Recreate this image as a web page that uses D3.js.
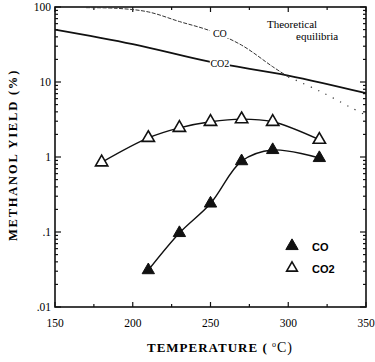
<!DOCTYPE html>
<html>
<head>
<meta charset="utf-8">
<script src="https://cdn.jsdelivr.net/npm/d3@7"></script>
<style>
  body { margin: 0; background: #fff; }
  svg { display: block; }
  .serif { font-family: "Liberation Serif", "DejaVu Serif", "Times New Roman", serif; }
  .sans { font-family: "Liberation Sans", "DejaVu Sans", Arial, sans-serif; }
</style>
</head>
<body>
<div id="chart"></div>
<script>
// experimental points
const coTemps = [210, 230, 250, 270, 290, 320];
const coYield = [0.031, 0.097, 0.24, 0.88, 1.24, 0.97];
const co2Temps = [180, 210, 230, 250, 270, 290, 320];
const co2Yield = [0.85, 1.8, 2.45, 2.95, 3.2, 2.95, 1.7];

// theoretical equilibria
const eqCoTemps = [170, 190, 210, 230, 250, 270, 290, 300, 320, 340, 350];
const eqCoYield = [98, 96, 86, 64, 48, 31, 16, 11.7, 7.6, 4.6, 3.6];
const eqCo2Temps = [150, 200, 250, 300, 350];
const eqCo2Yield = [50, 32, 18.5, 12.2, 7.1];

const xTicks = [150, 200, 250, 300, 350];
const yTicks = [0.01, 0.1, 1, 10, 100];
const yTickLabels = [".01", ".1", "1", "10", "100"];

const W = 375, H = 362;
const svg = d3.select("#chart").append("svg").attr("width", W).attr("height", H);

const x = d3.scaleLinear().domain([150, 350]).range([55, 366]);
const y = d3.scaleLog().domain([0.01, 100]).range([307, 7]);

// frame
svg.append("rect")
    .attr("x", x(150)).attr("y", y(100))
    .attr("width", x(350) - x(150)).attr("height", y(0.01) - y(100))
    .attr("fill", "none").attr("stroke", "#111").attr("stroke-width", 1.6);

// log minor ticks
const minorY = [];
[0.01, 0.1, 1, 10].forEach(d => { for (let k = 2; k <= 9; k++) minorY.push(d * k); });

const tickG = svg.append("g").attr("stroke", "#111").attr("stroke-width", 1.2);
yTicks.forEach(v => {
    tickG.append("line").attr("x1", x(150)).attr("x2", x(150) + 6).attr("y1", y(v)).attr("y2", y(v));
    tickG.append("line").attr("x1", x(350)).attr("x2", x(350) - 6).attr("y1", y(v)).attr("y2", y(v));
});
minorY.forEach(v => {
    tickG.append("line").attr("x1", x(150)).attr("x2", x(150) + 3).attr("y1", y(v)).attr("y2", y(v));
    tickG.append("line").attr("x1", x(350)).attr("x2", x(350) - 3).attr("y1", y(v)).attr("y2", y(v));
});
d3.range(150, 351, 25).forEach(t => {
    const len = t % 50 === 0 ? 5 : 3;
    tickG.append("line").attr("x1", x(t)).attr("x2", x(t)).attr("y1", y(0.01)).attr("y2", y(0.01) - len);
    tickG.append("line").attr("x1", x(t)).attr("x2", x(t)).attr("y1", y(100)).attr("y2", y(100) + len);
});

// tick labels
svg.append("g").attr("class", "serif").selectAll("text").data(xTicks).join("text")
    .attr("x", d => x(d)).attr("y", 327)
    .attr("text-anchor", "middle")
    .attr("font-size", 11.5)
    .text(d => d);

svg.append("g").attr("class", "serif").selectAll("text").data(yTicks).join("text")
    .attr("x", x(150) - 4).attr("y", d => y(d) + 4)
    .attr("text-anchor", "end")
    .attr("font-size", 11.5)
    .text((d, i) => yTickLabels[i]);

// axis titles
svg.append("text").attr("class", "serif")
    .attr("transform", "translate(17,155) rotate(-90)")
    .attr("text-anchor", "middle")
    .attr("font-size", 12.5).attr("font-weight", "bold")
    .attr("letter-spacing", 1.8)
    .text("METHANOL  YIELD  (%)");

const xt = svg.append("text").attr("class", "serif")
    .attr("x", 147).attr("y", 352)
    .attr("font-size", 13).attr("font-weight", "bold")
    .attr("letter-spacing", 1);
xt.append("tspan").text("TEMPERATURE (  ");
xt.append("tspan").attr("font-size", 8).attr("dy", -5).attr("font-weight", "normal").text("o");
xt.append("tspan").attr("dy", 5).attr("font-weight", "normal").attr("font-size", 14).text("C)");

// theoretical lines
const eqLine = d3.line().x(d => x(d[0])).y(d => y(d[1])).curve(d3.curveCatmullRom);
const eqCo = eqCoTemps.map((t, i) => [t, eqCoYield[i]]);
const eqCo2 = eqCo2Temps.map((t, i) => [t, eqCo2Yield[i]]);

svg.append("path").datum(eqCo2).attr("d", eqLine)
    .attr("fill", "none").attr("stroke", "#111").attr("stroke-width", 1.8);
svg.append("path").datum(eqCo.filter(d => d[0] <= 300)).attr("d", eqLine)
    .attr("fill", "none").attr("stroke", "#333").attr("stroke-width", 1)
    .attr("stroke-dasharray", "4,1.5");
svg.append("path").datum(eqCo.filter(d => d[0] >= 300)).attr("d", eqLine)
    .attr("fill", "none").attr("stroke", "#333").attr("stroke-width", 1.2)
    .attr("stroke-dasharray", "1.2,7");

// labels on theoretical lines
const curveLabel = (t, v, txt) => {
    const g = svg.append("g");
    g.append("rect").attr("x", x(t) - 10).attr("y", y(v) - 5).attr("width", 20).attr("height", 10).attr("fill", "#fff");
    g.append("text").attr("class", "serif").attr("x", x(t)).attr("y", y(v) + 3.5)
        .attr("text-anchor", "middle")
        .attr("font-size", 10)
        .text(txt);
};
curveLabel(256, 45, "CO");
curveLabel(256, 17.5, "CO2");

svg.append("text").attr("class", "serif").attr("x", 267).attr("y", 28)
    .attr("font-size", 11).text("Theoretical");
svg.append("text").attr("class", "serif").attr("x", 296).attr("y", 40)
    .attr("font-size", 11).text("equilibria");

// experimental curves
const fitLine = d3.line().x(d => x(d[0])).y(d => y(d[1])).curve(d3.curveCatmullRom);
const coPts = coTemps.map((t, i) => [t, coYield[i]]);
const co2Pts = co2Temps.map((t, i) => [t, co2Yield[i]]);

svg.append("path").datum(co2Pts).attr("d", fitLine)
    .attr("fill", "none").attr("stroke", "#111").attr("stroke-width", 1.4);
svg.append("path").datum(coPts).attr("d", fitLine)
    .attr("fill", "none").attr("stroke", "#111").attr("stroke-width", 1.4);

const tri = d3.symbol().type(d3.symbolTriangle).size(66);

svg.append("g").selectAll("path").data(co2Pts).join("path")
    .attr("d", tri)
    .attr("transform", d => `translate(${x(d[0])},${y(d[1])})`)
    .attr("fill", "#fff").attr("stroke", "#111").attr("stroke-width", 1.6);

svg.append("g").selectAll("path").data(coPts).join("path")
    .attr("d", tri)
    .attr("transform", d => `translate(${x(d[0])},${y(d[1])})`)
    .attr("fill", "#111").attr("stroke", "#111").attr("stroke-width", 1);

// legend
svg.append("path").attr("d", tri).attr("transform", "translate(292,246)")
    .attr("fill", "#111").attr("stroke", "#111");
svg.append("text").attr("class", "sans").attr("x", 312).attr("y", 251)
    .attr("font-size", 11).attr("font-weight", "bold").text("CO");
svg.append("path").attr("d", d3.symbol().type(d3.symbolTriangle).size(50)).attr("transform", "translate(292,268)")
    .attr("fill", "#fff").attr("stroke", "#111").attr("stroke-width", 1.6);
svg.append("text").attr("class", "sans").attr("x", 312).attr("y", 273)
    .attr("font-size", 11).attr("font-weight", "bold").text("CO2");
</script>
</body>
</html>
